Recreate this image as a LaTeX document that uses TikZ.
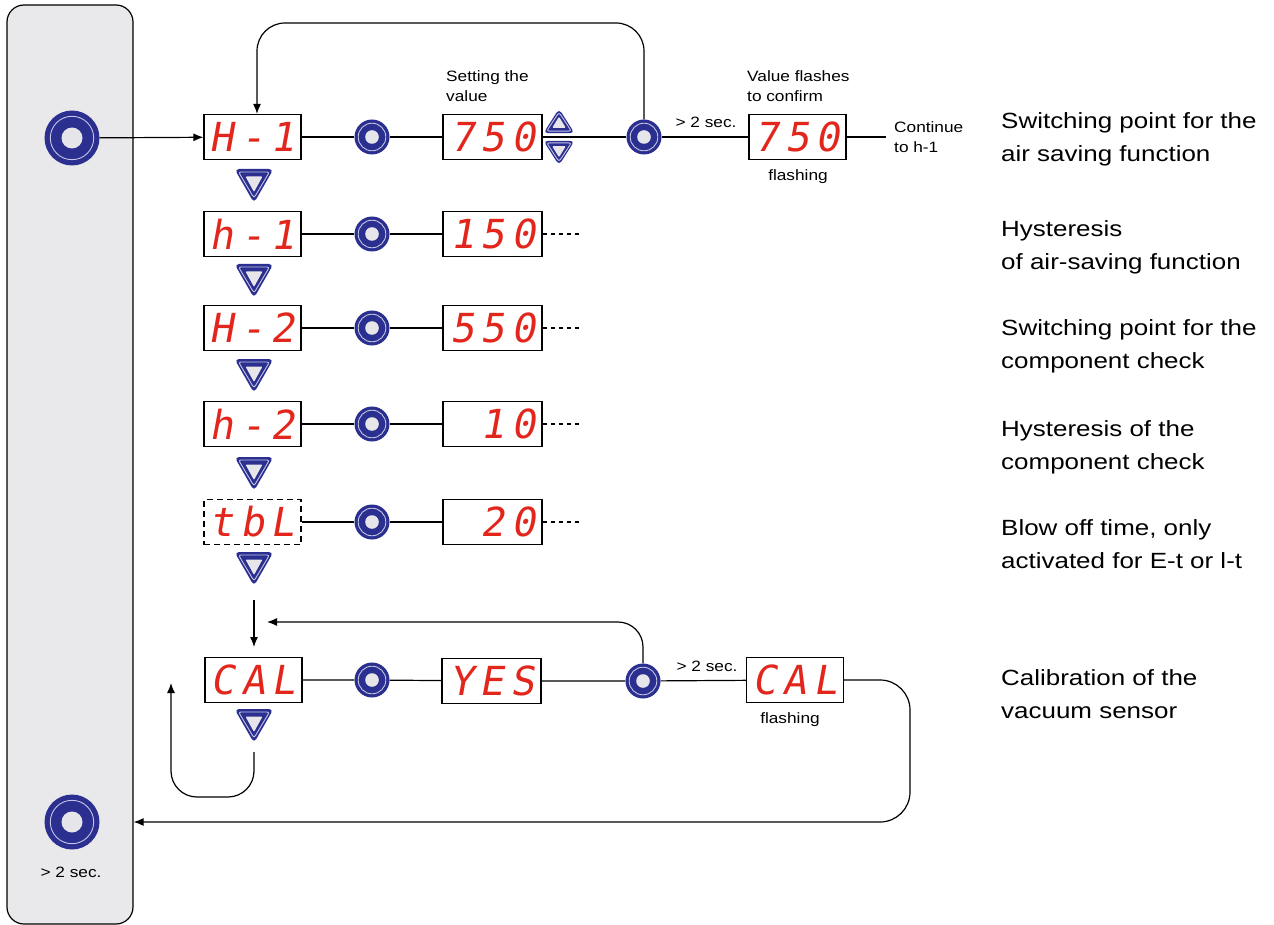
\documentclass[tikz,border=0pt]{standalone}
\usepackage{fontspec}
\setmainfont{Liberation Sans}[FakeStretch=1.15]
\newfontfamily\descfont{Liberation Sans}[FakeStretch=1.18]
\newfontfamily\segfont{DejaVu Sans Mono}[LetterSpace=16, FakeSlant=0.18]
\usetikzlibrary{arrows.meta}
\definecolor{navy}{RGB}{43,47,143}
\definecolor{segred}{RGB}{226,38,28}
\definecolor{panelgray}{RGB}{233,233,235}
\definecolor{btncenter}{RGB}{230,230,234}
\definecolor{ringc}{RGB}{195,195,228}
\tikzset{
  line/.style={line width=1.2pt, black},
  arr/.style={line, -{Latex[length=10pt,width=8pt]}},
  disp/.style={draw, line width=1.2pt, fill=white, minimum width=97pt, minimum height=45pt,
    inner sep=0pt, text=segred, font=\segfont\fontsize{40}{40}\selectfont},
  dispdash/.style={disp, dash pattern=on 6pt off 4pt},
  val/.style={disp, minimum width=99pt, text width=86pt, align=right},
  btnshape/.style n args={3}{circle, fill=navy, minimum size=#1, inner sep=0pt,
    path picture={\draw[ringc, line width=0.9pt] (path picture bounding box.center) circle (#2);
                  \fill[btncenter] (path picture bounding box.center) circle (#3);}},
  btn/.style={btnshape={35pt}{13.8pt}{6.8pt}},
  bigbtn/.style={btnshape={55pt}{21.7pt}{10.5pt}},
  lab/.style={inner sep=0pt, align=left, font=\fontsize{15}{20}\selectfont},
  desc/.style={inner sep=0pt, anchor=west, align=left, font=\descfont\fontsize{22}{33}\selectfont},
  downtri/.pic={
    \path[fill=navy, rounded corners=4.5pt] (-19.5,-17) -- (19.5,-17) -- (0,17) -- cycle;
    \path[draw=ringc, line width=0.9pt, rounded corners=2.5pt] (-15.5,-14) -- (15.5,-14) -- (0,12) -- cycle;
    \path[fill=btncenter, rounded corners=1pt] (-8.5,-9.5) -- (8.5,-9.5) -- (0,6) -- cycle;
  }
}
\begin{document}
\begin{tikzpicture}[x=1pt,y=-1pt]
\useasboundingbox (0,0) rectangle (1274,925);
% left panel
\node[draw, fill=panelgray, rounded corners=17pt, line width=1.2pt, minimum width=126pt,
      minimum height=919pt, inner sep=0pt] (panel) at (70,464.5) {};
\node[bigbtn] (L1) at (72,138) {};
\node[bigbtn] (L2) at (72,822) {};
\node[lab] (L2lbl) at (71,872) {> 2 sec.};

% row 1
\node[disp] (d1) at (252.5,137) {H-1};
\node[btn] (b1) at (372,137) {};
\node[val] (v1) at (492.5,137) {750};
\node[btn] (bR1) at (644,137) {};
\node[disp] (f1) at (797.5,137) {750};
\coordinate (cont) at (886,137);
\node[lab, anchor=north west] (setlbl) at (446,70) {Setting the\\value};
\node[lab, anchor=north west] (vflbl) at (747,70) {Value flashes\\to confirm};
\node[lab] (sec1) at (706,122) {> 2 sec.};
\node[lab] (fl1) at (798,177) {flashing};
\node[lab, anchor=north west] (contlbl) at (894,121) {Continue\\to h-1};
\pic at (559,121) [xscale=0.8, yscale=-0.72] {downtri};
\pic at (559,153) [xscale=0.8, yscale=0.72] {downtri};
\coordinate (tl) at (257,23);

\draw[arr] (L1) -- (d1);
\draw[line] (d1) -- (b1) -- (v1);
\draw[line] (v1) -- (bR1) -- (f1);
\draw[line] (f1.east) -- (cont);
\draw[arr, rounded corners=28pt] (bR1.north) |- (tl) -- (tl |- d1.north);

% rows 2-5
\node[disp] (d2) at (252.5,234) {h-1};
\node[btn] (b2) at (372,234) {};
\node[val] (v2) at (492.5,234) {150};
\coordinate (e2) at (580,234);
\node[disp] (d3) at (252.5,328) {H-2};
\node[btn] (b3) at (372,328) {};
\node[val] (v3) at (492.5,328) {550};
\coordinate (e3) at (580,328);
\node[disp] (d4) at (252.5,424) {h-2};
\node[btn] (b4) at (372,424) {};
\node[val] (v4) at (492.5,424) {10};
\coordinate (e4) at (580,424);
\node[dispdash] (d5) at (252.5,522) {tbL};
\node[btn] (b5) at (372,522) {};
\node[val] (v5) at (492.5,522) {20};
\coordinate (e5) at (580,522);
\foreach \r in {2,3,4,5}{
  \draw[line] (d\r) -- (b\r) -- (v\r);
  \draw[line, dash pattern=on 4pt off 4pt] (v\r) -- (e\r);
}
\foreach \ty in {186,281,376,474,569,726}{
  \pic at (254,\ty) {downtri};
}

% CAL row
\node[disp] (d6) at (253.5,680) {CAL};
\node[btn] (b6) at (372,680) {};
\node[val] (v6) at (491.5,681) {YES};
\node[btn] (bR6) at (643,681) {};
\node[disp] (f6) at (795,680) {CAL};
\node[lab] (sec6) at (707,666) {> 2 sec.};
\node[lab] (fl6) at (790,720) {flashing};
\draw[line] (d6) -- (b6) -- (v6) -- (bR6) -- (f6);
\coordinate (dn1) at (254,600);
\coordinate (dn2) at (254,647);
\draw[arr] (dn1) -- (dn2);
\coordinate (lp) at (267,622);
\draw[arr, rounded corners=25pt] (bR6.north) |- (lp);
\coordinate (cl1) at (254,752);
\coordinate (cl2) at (171,797);
\coordinate (cl3) at (171,683);
\draw[arr, rounded corners=26pt] (cl1) |- (cl2) -- (cl3);
\coordinate (rc) at (910,822);
\draw[arr, rounded corners=30pt] (f6.east) -| (rc) -- (panel.east |- rc);

% descriptions
\node[desc] (t1) at (1001,139) {Switching point for the\\air saving function};
\node[desc] (t2) at (1001,247) {Hysteresis\\of air-saving function};
\node[desc] (t3) at (1001,346) {Switching point for the\\component check};
\node[desc] (t4) at (1001,447) {Hysteresis of the\\component check};
\node[desc] (t5) at (1001,544) {Blow off time, only\\activated for E-t or l-t};
\node[desc] (t6) at (1001,694) {Calibration of the\\vacuum sensor};
\end{tikzpicture}
\end{document}
